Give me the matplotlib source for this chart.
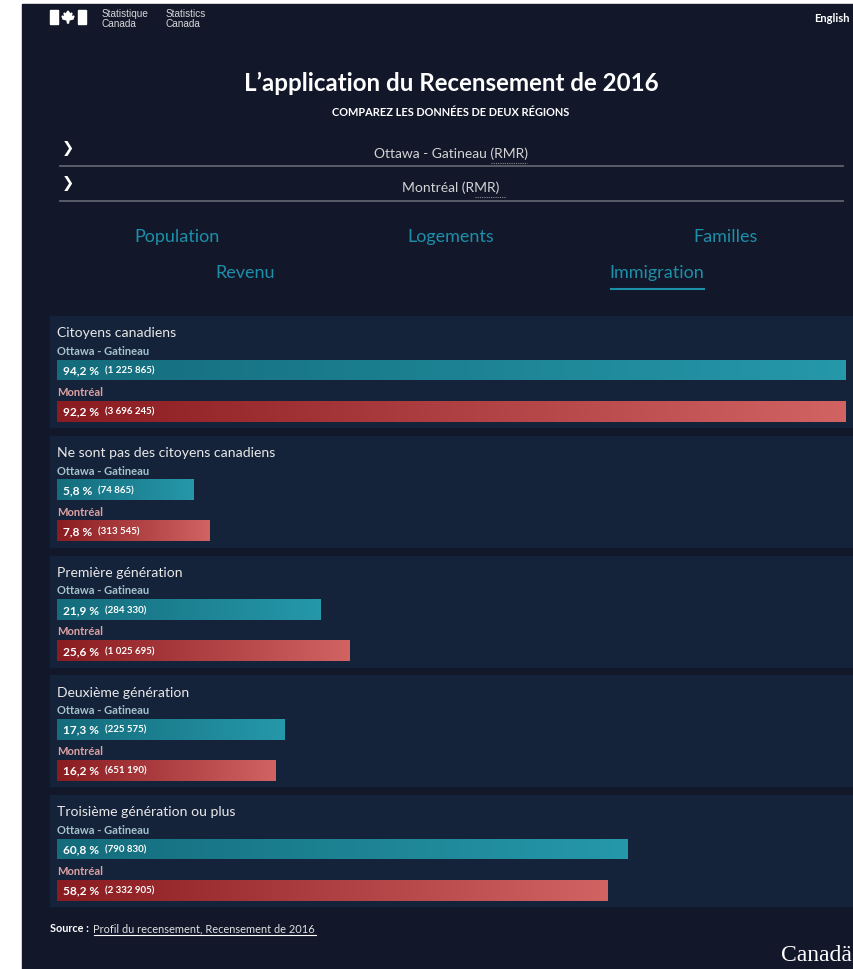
import numpy as np
import matplotlib
matplotlib.use("Agg")
import matplotlib.pyplot as plt
from matplotlib.patches import Rectangle, Polygon
from matplotlib.colors import LinearSegmentedColormap

plt.rcParams["font.family"] = ["Lato", "DejaVu Sans"]

# data
categories = [
    "Citoyens canadiens",
    "Ne sont pas des citoyens canadiens",
    "Première génération",
    "Deuxième génération",
    "Troisième génération ou plus",
]
ottawa_pct = [94.2, 5.8, 21.9, 17.3, 60.8]
ottawa_n = [1225865, 74865, 284330, 225575, 790830]
montreal_pct = [92.2, 7.8, 25.6, 16.2, 58.2]
montreal_n = [3696245, 313545, 1025695, 651190, 2332905]
regions = ["Ottawa - Gatineau", "Montréal"]
region_names = ["Ottawa - Gatineau (RMR)", "Montréal (RMR)"]
tabs_row1 = ["Population", "Logements", "Familles"]
tabs_row2 = ["Revenu", "Immigration"]

W, H = 854, 970
BG = "#12172a"
PANEL = "#15233a"
TEAL = "#1d8fa8"
PAD = 11.53  # bars have a minimum width (in % units)
XMAX = 100 - PAD

teal_cmap = LinearSegmentedColormap.from_list("teal", ["#146c7c", "#2598aa"])
red_cmap = LinearSegmentedColormap.from_list("red", ["#8a1c21", "#d26363"])

fig = plt.figure(figsize=(W / 100, H / 100), dpi=100)
fig.patch.set_facecolor("white")
pg = fig.add_axes([0, 0, 1, 1])
pg.set_xlim(0, W)
pg.set_ylim(H, 0)
pg.axis("off")
pg.add_patch(Rectangle((22, 5), W - 22, H - 5, color=BG, zorder=0))

# header
pg.add_patch(Rectangle((50, 11), 8, 14, color="white"))
pg.add_patch(Rectangle((78, 11), 8, 14, color="white"))
leaf = [(68, 12), (70, 15), (72, 14), (71, 18), (74, 17), (73, 20), (69, 21),
        (68.5, 24), (67.5, 24), (67, 21), (63, 20), (62, 17), (65, 18), (64, 14), (66, 15)]
pg.add_patch(Polygon(leaf, closed=True, color="white"))
pg.text(102, 19, "Statistique\nCanada", color="#d8d8d8", fontsize=7.2,
        family="Liberation Sans", va="center", linespacing=0.9)
pg.text(166, 19, "Statistics\nCanada", color="#d8d8d8", fontsize=7.2,
        family="Liberation Sans", va="center", linespacing=0.9)
pg.text(850, 19, "English", color="white", fontsize=8, weight="bold",
        ha="right", va="center")

pg.text(451, 83, "L\u2019application du Recensement de 2016", color="white",
        fontsize=17.4, weight="bold", ha="center", va="center")
pg.text(451, 112, "COMPAREZ LES DONNÉES DE DEUX RÉGIONS", color="white",
        fontsize=7.9, weight="bold", ha="center", va="center")

# region selectors
for i, name in enumerate(region_names):
    y = 151 + 34.5 * i
    pg.text(62, y - 2, "\u276f", color="white", fontsize=10.5, weight="bold",
            family="DejaVu Sans", va="center")
    pg.text(451, y + 2.5, name, color="#d4d4d4", fontsize=10, ha="center", va="center")
    pg.plot([60, 843], [y + 16, y + 16], color="#5f636e", lw=1.3)
pg.plot([491, 527], [163.5, 163.5], color="#8a8a8a", lw=0.8, ls=(0, (1, 1)))
pg.plot([475, 505], [198, 198], color="#8a8a8a", lw=0.8, ls=(0, (1, 1)))

# tabs
for x, t in zip([177, 451, 726], tabs_row1):
    pg.text(x, 237, t, color=TEAL, fontsize=13, ha="center", va="center")
for x, t in zip([245, 657], tabs_row2):
    pg.text(x, 273, t, color=TEAL, fontsize=13, ha="center", va="center")
pg.plot([611, 704], [290, 290], color=TEAL, lw=1.5)

# panels
def fmt_pct(v):
    return f"{v:.1f}".replace(".", ",") + " %"

def fmt_n(n):
    return "(" + f"{n:,}".replace(",", " ") + ")"

for i, cat in enumerate(categories):
    top = 317 + 119.75 * i
    pg.add_patch(Rectangle((50, top), W - 50, 111, color=PANEL, zorder=1))
    pg.text(57, top + 16.5, cat, color="#e8e8e8", fontsize=10.1, va="center", zorder=2)
    pg.text(57, top + 34.5, regions[0], color="#a5c4cc", fontsize=8, weight="bold",
            va="center", zorder=2)
    pg.text(57, top + 75.5, regions[1], color="#dea2a2", fontsize=8, weight="bold",
            va="center", zorder=2)

    ax = fig.add_axes([57 / W, 1 - (top + 105.5) / H, 789 / W, 62 / H])
    ax.patch.set_alpha(0)
    vals = [ottawa_pct[i], montreal_pct[i]]
    counts = [ottawa_n[i], montreal_n[i]]
    bars = ax.barh([0, 1], [v + PAD for v in vals], left=-PAD, height=0.512,
                   color="none")
    for b, cmap in zip(bars, [teal_cmap, red_cmap]):
        x0, y0 = b.get_x(), b.get_y()
        x1 = min(x0 + b.get_width(), XMAX)
        grad = np.linspace(0, 1, 256).reshape(1, -1)
        ax.imshow(grad, cmap=cmap, aspect="auto",
                  extent=[x0, x1, y0 + b.get_height(), y0])
    for yi, (v, n) in enumerate(zip(vals, counts)):
        t = ax.annotate(fmt_pct(v), xy=(0, yi), xycoords=("axes fraction", "data"),
                        xytext=(4.5, 0), textcoords="offset points", color="white",
                        fontsize=8.6, weight="bold", va="center")
        ax.annotate(fmt_n(n), xy=(1, 0.5), xycoords=t, xytext=(4, 0),
                    textcoords="offset points", color="white", fontsize=7,
                    weight="bold", va="center")
    ax.set_xlim(-PAD, XMAX)
    ax.set_ylim(1.256, -0.256)
    ax.axis("off")

# footer
src = pg.text(50, 929, "Source :", color="white", fontsize=7.8, weight="bold", va="center")
pg.annotate("Profil du recensement, Recensement de 2016", xy=(1, 0.5), xycoords=src,
            xytext=(3, 0), textcoords="offset points", color="#e2e2e2", fontsize=7.9,
            va="center")
pg.plot([94, 316], [936, 936], color="white", lw=0.8)
pg.text(852, 956, "Canadä", color="white", fontsize=17, family="Liberation Serif",
        ha="right", va="center")

fig.savefig("out.png", dpi=100, facecolor=fig.get_facecolor())
